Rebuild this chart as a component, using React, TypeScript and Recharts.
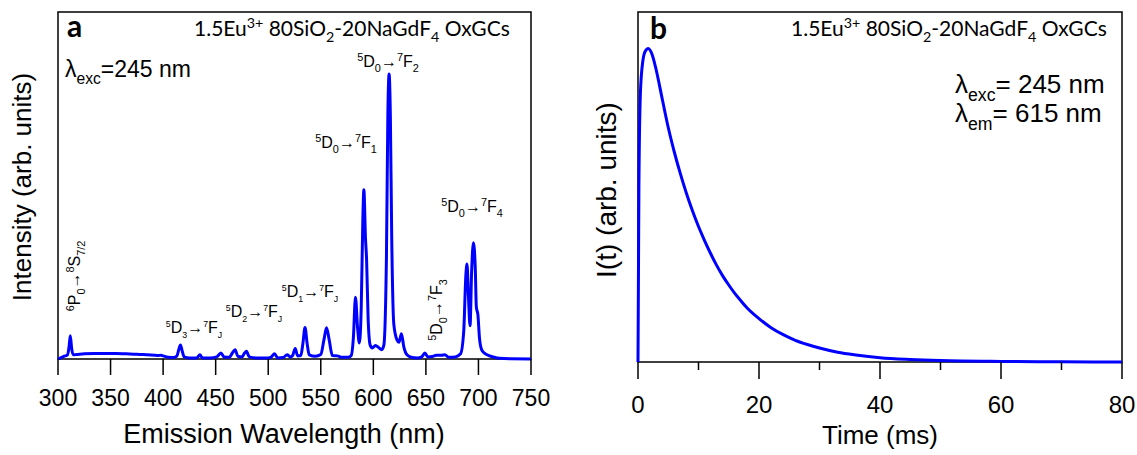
import React from 'react';
import { LineChart, Line, XAxis, YAxis, ReferenceArea } from 'recharts';

// Eu3+ emission spectrum (λexc = 245 nm), intensity in arbitrary units
const wavelength = [
  300, 303, 306, 309, 310.5, 311.7, 313, 314.5, 318, 325, 335, 345, 355, 365, 375, 385, 395, 398, 400,
  405, 410, 413, 415, 416.5, 418, 420, 425, 432, 435, 437.5, 445, 451, 455, 458, 463, 466, 468.5, 471,
  475, 477.5, 479.3, 482, 490, 500, 503, 506, 509, 514, 518, 521, 523, 525.7, 528, 531, 533, 535, 537,
  539, 545, 550, 553, 555.5, 558, 561, 566, 570, 576, 579, 581, 583, 585, 586.7, 588.5, 590, 591, 592.5,
  593.6, 595, 597, 599, 602, 605, 608, 610, 612.5, 613.8, 615, 616.2, 617.5, 619.5, 622.5, 624.4, 626.7,
  629, 632, 636, 642, 646, 649, 652, 656, 660, 665, 668, 672, 678, 683, 686, 688, 689.1, 690.5, 692,
  693.5, 695.2, 697, 698, 699.5, 701, 703, 706, 710, 715, 720, 730, 750,
];
const intensity = [
  0, 0.4, 0.8, 1.2, 3.5, 6.7, 3, 1.2, 1.3, 1.5, 1.6, 1.6, 1.6, 1.5, 1.4, 1.2, 1.0, 1.1, 0.9,
  0.5, 0.4, 0.8, 2.8, 4.0, 2.5, 0.6, 0.3, 0.3, 1.2, 0.3, 0.3, 0.6, 1.7, 0.6, 0.5, 1.8, 2.7, 0.8,
  0.6, 1.7, 2.2, 0.6, 0.3, 0.3, 0.6, 1.5, 0.3, 0.4, 1.2, 0.6, 0.9, 3.0, 0.9, 1.0, 4.5, 9.1, 4.5,
  1.2, 0.8, 1.3, 5.5, 9.0, 5.5, 1.0, 0.9, 0.5, 0.5, 1.0, 6, 17.8, 9, 4.6, 15, 40, 48.8, 35,
  28.5, 12, 4, 3.2, 3.9, 3.3, 2.7, 4, 30, 70, 82.1, 70, 35, 10, 5.5, 4.8, 7.3,
  3.5, 1.2, 0.5, 0.3, 0.6, 1.7, 0.6, 0.7, 1.1, 1.1, 1.2, 0.5, 0.6, 1.5, 8, 24, 27.4, 18, 9.6,
  25, 33.5, 26, 15, 12.7, 6, 2.7, 1.6, 1.0, 0.5, 0.2, 0.05, 0,
];
const wavelengthTicks = [300, 350, 400, 450, 500, 550, 600, 650, 700, 750];

// 5D0 decay curve at 615 nm
const timeMs = [
  0, 0.15, 0.4, 0.8, 1.2, 1.7, 2.3, 3, 4, 5, 6, 7, 8, 9, 10, 11, 12, 13, 14, 15, 16, 17, 18, 20, 22,
  24, 26, 28, 30, 33, 36, 40, 45, 50, 60, 70, 80,
];
const decay = [
  0, 0.5, 0.77, 0.86, 0.888, 0.896, 0.88, 0.835, 0.752, 0.67, 0.6, 0.538, 0.482, 0.432, 0.387, 0.347,
  0.31, 0.276, 0.246, 0.22, 0.196, 0.175, 0.155, 0.124, 0.098, 0.078, 0.062, 0.05, 0.04, 0.028, 0.02,
  0.012, 0.007, 0.004, 0.0015, 0.0005, 0.0002,
];
const timeTicks = [0, 10, 20, 30, 40, 50, 60, 70, 80];

const spectrum = wavelength.map((w, i) => ({ w, v: intensity[i] }));
const decayData = timeMs.map((t, i) => ({ t, v: decay[i] }));

const ARIAL = "'Liberation Sans', Arial, sans-serif";
const CALIBRI = "Lato, 'Open Sans', sans-serif";
const BLUE = '#0000ff';

// text with {^sup} and {_sub} runs
function Rich({ x, y, size, text, anchor = 'start', rotate = 0, family = ARIAL, weight = 'normal', small = 0.68 }: any) {
  const parts: [string, string][] = [];
  const re = /\{([\^_])([^}]*)\}|([^{]+)/g;
  let m: RegExpExecArray | null;
  while ((m = re.exec(text))) {
    if (m[3]) parts.push([m[3], 'n']);
    else parts.push([m[2], m[1] === '^' ? 'u' : 'd']);
  }
  let cur = 0;
  return (
    <text
      x={x}
      y={y}
      fontSize={size}
      textAnchor={anchor}
      fontFamily={family}
      fontWeight={weight}
      fill="#000"
      transform={rotate ? `rotate(${rotate} ${x} ${y})` : undefined}
    >
      {parts.map(([t, k], i) => {
        const target = k === 'u' ? -0.4 * size : k === 'd' ? 0.3 * size : 0;
        const dy = target - cur;
        cur = target;
        return (
          <tspan key={i} dy={dy} fontSize={k === 'n' ? size : size * small}>
            {t}
          </tspan>
        );
      })}
    </text>
  );
}

const WavelengthTick = ({ x, y, payload }: any) => (
  <g>
    <line x1={x} x2={x} y1={y} y2={y + 16} stroke="#000" strokeWidth={1.5} />
    <text x={x} y={y + 47} textAnchor="middle" fontSize={23} fontFamily={ARIAL} fill="#000">
      {payload.value}
    </text>
  </g>
);

const TimeTick = ({ x, y, payload }: any) => {
  const major = payload.value % 20 === 0;
  return (
    <g>
      <line x1={x} x2={x} y1={y} y2={y + (major ? 17 : 8)} stroke="#000" strokeWidth={1.5} />
      {major && (
        <text x={x} y={y + 51} textAnchor="middle" fontSize={24} fontFamily={ARIAL} fill="#000">
          {payload.value}
        </text>
      )}
    </g>
  );
};

export default function App() {
  return (
    <div style={{ position: 'absolute', left: 0, top: 0, width: 1137, height: 455, background: '#fff' }}>
      <div style={{ position: 'absolute', left: 0, top: 0 }}>
        <LineChart width={560} height={455} data={spectrum} margin={{ top: 12, right: 29, bottom: 0, left: 58 }}>
          <XAxis
            dataKey="w"
            type="number"
            domain={[300, 750]}
            ticks={wavelengthTicks}
            interval={0}
            axisLine={false}
            tickLine={false}
            tickSize={0}
            tickMargin={0}
            height={96}
            tick={<WavelengthTick />}
          />
          <YAxis hide domain={[0, 100]} />
          <ReferenceArea x1={300} x2={750} y1={0} y2={100} fill="none" stroke="#000" strokeWidth={1.5} />
          <Line dataKey="v" type="monotone" stroke={BLUE} strokeWidth={3} dot={false} isAnimationActive={false} />
        </LineChart>
      </div>

      <div style={{ position: 'absolute', left: 580, top: 0 }}>
        <LineChart width={557} height={455} data={decayData} margin={{ top: 12, right: 15, bottom: 0, left: 58 }}>
          <XAxis
            dataKey="t"
            type="number"
            domain={[0, 80]}
            ticks={timeTicks}
            interval={0}
            axisLine={false}
            tickLine={false}
            tickSize={0}
            tickMargin={0}
            height={93}
            tick={<TimeTick />}
          />
          <YAxis hide domain={[0, 1]} />
          <ReferenceArea x1={0} x2={80} y1={0} y2={1} fill="none" stroke="#000" strokeWidth={1.5} />
          <Line dataKey="v" type="monotone" stroke={BLUE} strokeWidth={3} dot={false} isAnimationActive={false} />
        </LineChart>
      </div>

      {/* titles, axis names and transition labels */}
      <svg width={1137} height={455} style={{ position: 'absolute', left: 0, top: 0, pointerEvents: 'none' }}>
        <Rich x={31} y={187} size={26} anchor="middle" rotate={-90} text="Intensity (arb. units)" />
        <Rich x={284} y={443} size={27} anchor="middle" text="Emission Wavelength (nm)" />
        <Rich x={67} y={37} size={30} weight="bold" family={CALIBRI} text="a" />
        <Rich x={194} y={36} size={21} family={CALIBRI} text="1.5Eu{^3+} 80SiO{_2}-20NaGdF{_4} OxGCs" />
        <Rich x={65} y={77} size={23} text="λ{_exc}=245 nm" />
        <Rich x={388} y={67} size={16} anchor="middle" text="{^5}D{_0}→{^7}F{_2}" />
        <Rich x={346} y={148} size={16} anchor="middle" text="{^5}D{_0}→{^7}F{_1}" />
        <Rich x={472} y={212} size={16} anchor="middle" text="{^5}D{_0}→{^7}F{_4}" />
        <Rich x={310} y={297} size={16} anchor="middle" text="{^5}D{_1}→{^7}F{_J}" small={0.55} />
        <Rich x={254} y={317} size={16} anchor="middle" text="{^5}D{_2}→{^7}F{_J}" small={0.55} />
        <Rich x={194} y={333} size={16} anchor="middle" text="{^5}D{_3}→{^7}F{_J}" small={0.55} />
        <Rich x={80} y={276} size={16} anchor="middle" rotate={-90} text="{^6}P{_0}→{^8}S{_7/2}" />
        <Rich x={442} y={310} size={16} anchor="middle" rotate={-90} text="{^5}D{_0}→{^7}F{_3}" />

        <Rich x={616} y={190} size={28} anchor="middle" rotate={-90} text="I(t) (arb. units)" />
        <Rich x={880} y={444} size={26} anchor="middle" text="Time (ms)" />
        <Rich x={650} y={39} size={30} weight="bold" family={CALIBRI} text="b" />
        <Rich x={791} y={36} size={21} family={CALIBRI} text="1.5Eu{^3+} 80SiO{_2}-20NaGdF{_4} OxGCs" />
        <Rich x={955} y={93} size={26} text="λ{_exc}= 245 nm" />
        <Rich x={955} y={122} size={26} text="λ{_em}= 615 nm" />
      </svg>
    </div>
  );
}
